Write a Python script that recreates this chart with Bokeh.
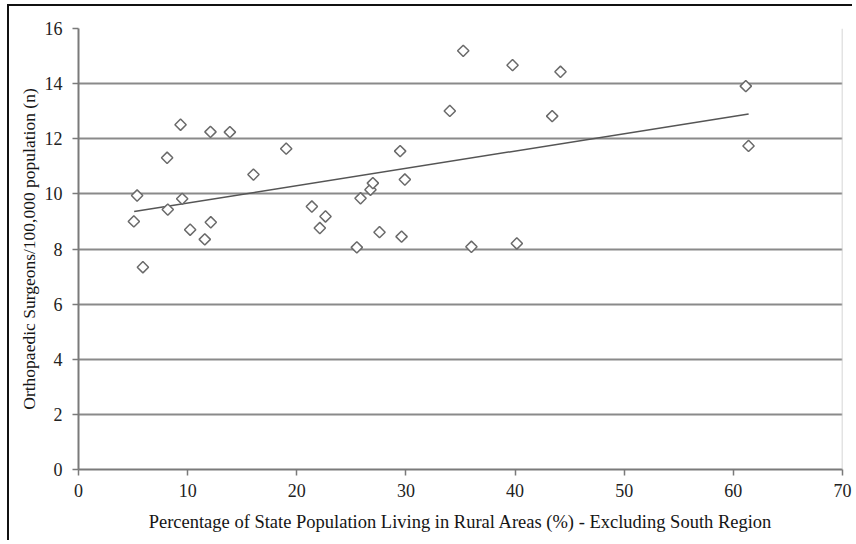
import math
from bokeh.plotting import figure
from bokeh.models import ColumnDataSource, Range1d, FixedTicker, Span
from bokeh.embed import file_html
from bokeh.resources import INLINE

# Data
rural_pct = [5.37, 5.9, 5.07, 8.12, 8.18, 9.35, 9.5, 10.23, 11.57, 12.12, 12.09,
             13.87, 16.03, 19.03, 21.38, 22.63, 22.11, 25.5, 25.84, 26.75, 26.97,
             27.58, 29.47, 29.9, 29.6, 34.02, 35.25, 36.0, 39.77, 40.16, 43.4,
             44.16, 61.14, 61.39]
surgeons = [9.94, 7.34, 9.0, 11.31, 9.43, 12.51, 9.82, 8.70, 8.35, 8.97, 12.25,
            12.24, 10.70, 11.64, 9.54, 9.18, 8.76, 8.06, 9.84, 10.15, 10.39,
            8.61, 11.55, 10.52, 8.45, 13.01, 15.19, 8.08, 14.67, 8.20, 12.82,
            14.43, 13.91, 11.74]
trend_x = [5.1, 61.4]
trend_y = [9.36, 12.90]
x_ticks = [0, 10, 20, 30, 40, 50, 60, 70]
y_ticks = [0, 2, 4, 6, 8, 10, 12, 14, 16]

FONT = "Liberation Serif"

p = figure(width=845, height=536, output_backend="svg", toolbar_location=None,
           x_range=Range1d(0, 70), y_range=Range1d(0, 16),
           min_border_left=69, min_border_right=12, min_border_top=22,
           min_border_bottom=73)
p.styles = {"margin-left": "7px", "margin-top": "4px",
            "border-left": "2px solid #111", "border-top": "2px solid #111"}
p.outline_line_color = None
p.background_fill_color = "white"
p.border_fill_color = "white"

p.xgrid.grid_line_color = None
p.ygrid.grid_line_color = "#8a8a8a"
p.ygrid.grid_line_width = 2
p.ygrid.ticker = FixedTicker(ticks=y_ticks)

p.add_layout(Span(location=70, dimension="height", line_color="#c8c8c8", line_width=1.5))

for ax in (p.xaxis[0], p.yaxis[0]):
    ax.axis_line_color = "#7a7a7a"
    ax.axis_line_width = 2
    ax.major_tick_line_color = "#7a7a7a"
    ax.major_tick_line_width = 1.5
    ax.major_tick_in = 0
    ax.major_tick_out = 6
    ax.minor_tick_line_color = None
    ax.major_label_text_font = FONT
    ax.major_label_text_font_size = "18px"
    ax.major_label_text_color = "#222222"
    ax.axis_label_text_font = FONT
    ax.axis_label_text_font_style = "normal"
    ax.axis_label_text_color = "#151515"

p.xaxis.axis_label_text_font_size = "18.5px"
p.yaxis.axis_label_text_font_size = "17.5px"
p.xaxis.ticker = FixedTicker(ticks=x_ticks)
p.yaxis.ticker = FixedTicker(ticks=y_ticks)
p.xaxis.major_label_standoff = 8
p.yaxis.major_label_standoff = 10
p.xaxis.axis_label = "Percentage of State Population Living in Rural Areas (%) - Excluding South Region"
p.yaxis.axis_label = "Orthopaedic Surgeons/100,000 population (n)"
p.xaxis.axis_label_standoff = 12
p.yaxis.axis_label_standoff = 3

p.line(trend_x, trend_y, line_color="#555555", line_width=1.5)

src = ColumnDataSource(dict(x=rural_pct, y=surgeons))
p.scatter("x", "y", source=src, marker="square", size=8, angle=math.pi / 4,
          fill_color="white", line_color="#6a6a6a", line_width=1.5)

open("out.html", "w").write(file_html(p, INLINE))
